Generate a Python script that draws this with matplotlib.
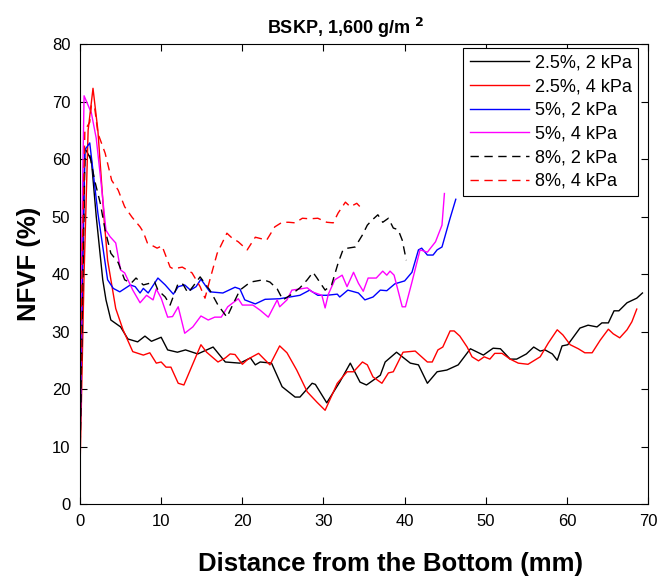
import numpy as np
import matplotlib
matplotlib.use("Agg")
import matplotlib.pyplot as plt

plt.rcParams['font.family'] = ['Liberation Sans', 'DejaVu Sans']

# 2.5%, 2 kPa
x1 = [0, 0.3, 0.6, 1.4, 2.0, 2.8, 3.2, 3.8, 5.0, 5.9, 7.1, 8.0, 8.8, 10.0, 10.8, 12.0, 13.0, 14.5,
      16.4, 17.9, 19.7, 21.0, 21.6, 22.2, 23.6, 24.9, 26.5, 27.1, 28.6, 29.0, 30.4, 32.0, 33.3, 34.5,
      35.3, 37.0, 37.6, 39.0, 40.7, 41.7, 42.8, 44.0, 45.2, 46.6, 48.1, 49.7, 50.9, 51.8, 53.0, 53.8,
      55.0, 55.9, 56.7, 57.3, 58.2, 58.8, 59.4, 60.1, 61.6, 62.6, 63.7, 64.3, 65.1, 65.8, 66.4, 67.4,
      68.6, 69.3]
y1 = [12, 40, 61.9, 59.8, 50, 39, 35.5, 32, 30.8, 28.7, 28.2, 29.2, 28.3, 29, 26.8, 26.4, 26.8, 26.1,
      27.3, 24.7, 24.5, 25.4, 24.2, 24.7, 24.5, 20.4, 18.6, 18.6, 21, 20.8, 17.6, 21.2, 24.5, 21.2,
      20.7, 22.4, 24.7, 26.4, 24.5, 24.2, 21, 23, 23.3, 24.2, 27, 25.9, 27.1, 27, 25.2, 25.2,
      26.1, 27.3, 26.6, 26.8, 26.1, 25, 27.5, 27.7, 30.6, 31.1, 30.8, 31.5, 31.5, 33.6, 33.6, 35,
      35.8, 36.7]

# 2.5%, 4 kPa
x2 = [0, 0.5, 1.0, 1.6, 2.2, 3.0, 3.4, 4.4, 5.3, 6.5, 7.8, 8.6, 9.4, 10.0, 10.6, 11.2, 12.1, 12.8,
      14.9, 15.6, 17.0, 17.9, 18.5, 19.1, 20.0, 20.7, 22.0, 23.4, 24.6, 25.5, 26.7, 28.0, 29.2, 30.2,
      31.7, 32.9, 33.7, 34.8, 35.4, 36.1, 37.2, 38.0, 38.6, 39.8, 41.3, 42.8, 43.4, 44.1, 44.7, 45.6,
      46.1, 46.8, 47.7, 48.3, 49.1, 49.8, 50.5, 51.1, 52.0, 53.0, 54.0, 55.2, 56.7, 57.7, 58.8, 59.5,
      60.4, 61.4, 62.2, 63.1, 64.1, 65.1, 65.7, 66.5, 67.4, 68.0, 68.6]
y2 = [6, 40, 65, 72.3, 65, 49, 42.4, 34, 30.3, 26.5, 25.9, 26.3, 24.5, 24.7, 23.8, 23.8, 21, 20.7,
      27.7, 26.4, 24.7, 25.4, 26.1, 26, 24.3, 25.2, 26.2, 24.2, 27.5, 26.3, 23.3, 19.5, 17.7, 16.3,
      21, 23, 23, 24.7, 24.2, 22.1, 21, 22.8, 23, 26.4, 26.6, 24.7, 24.7, 26.8, 27.3, 30.1,
      30.1, 29.2, 27.3, 25.6, 24.9, 25.6, 25.2, 26.2, 26.2, 25.2, 24.5, 24.3, 25.6, 28, 30.3, 29.4,
      27.7, 27, 26.3, 26.3, 28.5, 30.4, 29.6, 28.9, 30.3, 31.7, 33.9]

# 5%, 2 kPa
x3 = [0, 0.3, 0.6, 1.2, 2.2, 3.4, 4.1, 4.9, 6.2, 6.8, 7.4, 7.8, 8.4, 9.6, 10.5, 11.5, 12.1, 12.9,
      13.6, 14.3, 14.9, 16.0, 17.6, 19.1, 19.7, 20.3, 21.6, 22.8, 24.6, 27.1, 28.3, 29.3, 30.4, 31.7,
      32.0, 33.0, 34.3, 35.1, 36.1, 37.0, 37.8, 38.8, 40.0, 40.9, 41.7, 42.1, 42.8, 43.5, 44.0, 44.6,
      45.6, 46.3]
y3 = [9, 40, 61.6, 62.8, 50.6, 39, 37.5, 36.9, 38.1, 37.8, 36.7, 37.5, 36.7, 39.3, 38.1, 36.5, 37.8, 38.1,
      37.2, 37.8, 39.1, 36.9, 36.7, 37.7, 37.4, 35.5, 34.8, 35.6, 35.7, 36.3, 37.2, 36.3, 36.3, 36.5,
      36, 37.2, 36.7, 35.5, 36, 37.2, 37.1, 38.3, 38.8, 40.3, 44.2, 44.5, 43.3, 43.3, 44.2, 44.7,
      49.7, 53]

# 5%, 4 kPa
x4 = [0, 0.2, 0.5, 1.4, 2.0, 2.6, 3.2, 3.7, 4.4, 5.0, 5.5, 6.5, 7.4, 8.2, 9.0, 9.4, 10.0, 10.8,
      11.4, 12.1, 12.9, 13.9, 14.9, 15.8, 16.6, 17.4, 18.2, 19.5, 20.0, 21.3, 22.2, 23.2, 24.3, 24.6,
      25.5, 26.1, 27.1, 28.0, 28.6, 29.8, 30.2, 30.6, 31.4, 32.3, 32.9, 33.7, 34.3, 34.9, 35.5, 36.5,
      37.3, 37.8, 38.2, 38.7, 39.7, 40.1, 40.9, 41.9, 42.8, 43.8, 44.6, 44.9]
y4 = [10, 45, 71, 68, 63.6, 55.8, 47.6, 46.5, 45.4, 40.7, 40.2, 37.2, 35, 36.3, 35.5, 37.4, 35.8, 32.5,
      32.6, 34.3, 29.7, 30.8, 32.7, 32, 32.5, 32.5, 34.3, 35.7, 34.6, 34.6, 33.7, 32.5, 35.5, 34.3,
      35.5, 37.2, 37.4, 37.6, 36.9, 36.3, 34.1, 36.5, 39, 39.8, 37.8, 40.3, 38.4, 37, 39.3, 39.3,
      40.5, 39.8, 40.5, 39.8, 34.3, 34.3, 38.6, 44.2, 43.8, 45.6, 48.5, 54]

# 8%, 2 kPa
x5 = [0, 0.3, 0.6, 1.2, 1.8, 2.5, 3.1, 3.8, 4.7, 5.5, 6.3, 6.9, 7.8, 8.6, 9.2, 9.6, 10.5, 11.1,
      12.1, 12.7, 13.3, 13.9, 14.8, 16.0, 17.0, 18.1, 18.7, 19.7, 21.0, 22.6, 23.4, 24.3, 25.0, 25.9,
      27.1, 28.0, 28.7, 29.2, 30.2, 31.0, 31.8, 32.4, 33.0, 33.9, 34.8, 35.4, 36.0, 36.7, 37.3, 38.0,
      38.6, 39.2, 39.7, 40.2]
y5 = [8, 35, 60, 60.7, 56.3, 52.3, 47.6, 43.6, 42, 39, 38.4, 39.3, 38.1, 38.4, 38.6, 37.2, 36, 34.6,
      38.4, 38.2, 36.7, 37.8, 39.5, 37.2, 34.6, 32.5, 34.3, 37.2, 38.6, 39, 38.6, 37.4, 35.5, 36.3,
      37.6, 39, 40.3, 39.3, 37.2, 38.1, 41.9, 44.2, 44.5, 44.7, 46.8, 48.5, 49.4, 50.3, 49, 49.7,
      48, 47.7, 45.9, 42.4]

# 8%, 4 kPa
x6 = [0, 0.3, 0.6, 1.2, 1.4, 1.8, 2.2, 3.1, 3.9, 4.7, 5.5, 6.4, 7.4, 7.8, 8.3, 9.5, 10.1, 11.1,
      11.5, 12.6, 13.8, 14.8, 15.4, 16.0, 16.9, 18.1, 18.7, 19.5, 20.6, 21.6, 23.0, 24.0, 24.9, 25.7,
      26.5, 27.4, 28.3, 29.3, 30.4, 31.2, 31.8, 32.7, 33.3, 34.1, 34.5]
y6 = [15, 45, 65, 66.4, 69.4, 69, 64.5, 61, 56.3, 54.6, 51.7, 49.9, 48.2, 47.3, 45.4, 44.5, 44.9, 41.2,
      40.9, 41.2, 40.2, 37.8, 35.8, 39, 43.6, 47.1, 46.3, 45.6, 44.2, 46.4, 45.9, 48.2, 49, 49,
      48.9, 49.7, 49.6, 49.7, 49, 48.9, 50.6, 52.5, 51.7, 52.3, 51.7]

fig = plt.figure(figsize=(6.58, 5.77), dpi=100)
ax = fig.add_axes([0.1216, 0.1265, 0.8634, 0.7972])

dash = (0, (6, 4))
ax.plot(x1, y1, color='black', lw=1, label='2.5%, 2 kPa')
ax.plot(x2, y2, color='red', lw=1, label='2.5%, 4 kPa')
ax.plot(x3, y3, color='blue', lw=1, label='5%, 2 kPa')
ax.plot(x4, y4, color='magenta', lw=1, label='5%, 4 kPa')
ax.plot(x5, y5, color='black', lw=1, linestyle=dash, label='8%, 2 kPa')
ax.plot(x6, y6, color='red', lw=1, linestyle=dash, label='8%, 4 kPa')

ax.set_xlim(0, 70)
ax.set_ylim(0, 80)
ax.set_xticks(np.arange(0, 71, 10))
ax.set_yticks(np.arange(0, 81, 10))
ax.tick_params(direction='in', top=True, right=True, labelsize=12, length=5, width=0.8, pad=7)
for s in ax.spines.values():
    s.set_linewidth(0.8)

ax.set_xlabel('Distance from the Bottom (mm)', fontsize=18.5, fontweight='bold')
ax.set_ylabel('NFVF (%)', fontsize=18.5, fontweight='bold')
ax.xaxis.set_label_coords(0.546, -0.104)
ax.yaxis.set_label_coords(-0.069, 0.522)
fig.text(345 / 658, 1 - 28 / 577, 'BSKP, 1,600 g/m $^{\\mathbf{2}}$', fontsize=13,
         fontweight='bold', ha='center', va='center')

leg = ax.legend(loc='upper right', fontsize=13, frameon=True, fancybox=False,
                edgecolor='black', framealpha=1, handlelength=3.3, handletextpad=0.3,
                labelspacing=0.37, borderpad=0.35, borderaxespad=0,
                bbox_to_anchor=(0.982, 0.991))
leg.get_frame().set_linewidth(0.8)

fig.savefig('out.png', dpi=100)
